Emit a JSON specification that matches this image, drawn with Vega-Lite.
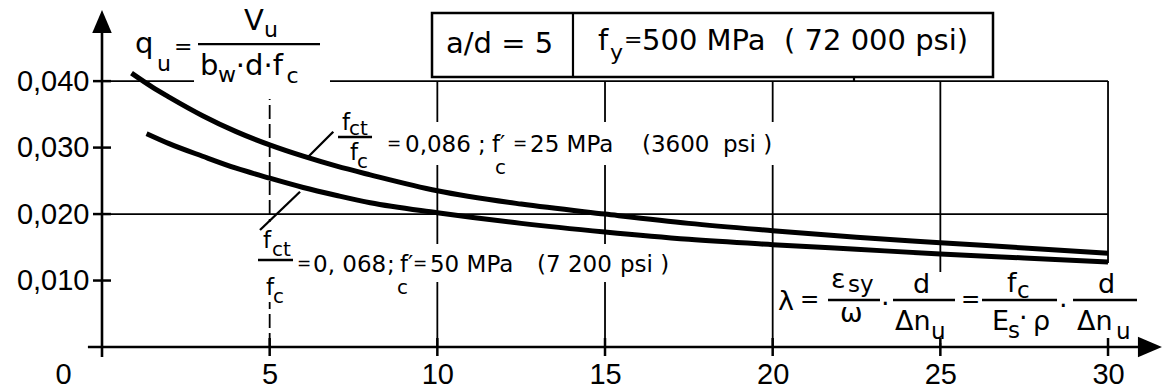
{
  "$schema": "https://vega.github.io/schema/vega-lite/v6.json",
  "width": 1058,
  "height": 337,
  "autosize": {"type": "none"},
  "padding": {"left": 102, "top": 10, "right": 2, "bottom": 44},
  "background": "white",
  "config": {"view": {"stroke": null}},
  "datasets": {
    "curves": [
      {"s": "a", "x": 0.88, "y": 0.0412}, {"s": "a", "x": 1.5, "y": 0.0391}, {"s": "a", "x": 2, "y": 0.0376},
      {"s": "a", "x": 3, "y": 0.0348}, {"s": "a", "x": 4, "y": 0.0324}, {"s": "a", "x": 5, "y": 0.0304},
      {"s": "a", "x": 6, "y": 0.0287}, {"s": "a", "x": 7, "y": 0.0272}, {"s": "a", "x": 8, "y": 0.0259},
      {"s": "a", "x": 10, "y": 0.0235}, {"s": "a", "x": 12.5, "y": 0.0215}, {"s": "a", "x": 15, "y": 0.02},
      {"s": "a", "x": 17.5, "y": 0.0186}, {"s": "a", "x": 20, "y": 0.0175}, {"s": "a", "x": 22.5, "y": 0.0165},
      {"s": "a", "x": 25, "y": 0.0157}, {"s": "a", "x": 27.5, "y": 0.0149}, {"s": "a", "x": 30, "y": 0.0141},
      {"s": "b", "x": 1.33, "y": 0.0321}, {"s": "b", "x": 2, "y": 0.0306}, {"s": "b", "x": 3, "y": 0.0287},
      {"s": "b", "x": 4, "y": 0.0269}, {"s": "b", "x": 5, "y": 0.0254}, {"s": "b", "x": 6, "y": 0.024},
      {"s": "b", "x": 7, "y": 0.0228}, {"s": "b", "x": 8, "y": 0.0217}, {"s": "b", "x": 10, "y": 0.0202},
      {"s": "b", "x": 12.5, "y": 0.0186}, {"s": "b", "x": 15, "y": 0.0173}, {"s": "b", "x": 17.5, "y": 0.0162},
      {"s": "b", "x": 20, "y": 0.0154}, {"s": "b", "x": 22.5, "y": 0.0147}, {"s": "b", "x": 25, "y": 0.014},
      {"s": "b", "x": 27.5, "y": 0.0134}, {"s": "b", "x": 30, "y": 0.0128}
    ],
    "gridsolid": [
      {"x": 10, "x2": 10, "y": 0, "y2": 0.04}, {"x": 15, "x2": 15, "y": 0, "y2": 0.04},
      {"x": 20, "x2": 20, "y": 0, "y2": 0.04}, {"x": 25, "x2": 25, "y": 0, "y2": 0.04},
      {"x": 30, "x2": 30, "y": 0, "y2": 0.04},
      {"x": 0, "x2": 30, "y": 0.02, "y2": 0.02}, {"x": 0, "x2": 30, "y": 0.04, "y2": 0.04}
    ],
    "griddash": [{"x": 5, "x2": 5, "y": 0, "y2": 0.04}],
    "masks": [
      {"x": 2.744, "x2": 6.799, "y": 0.03731, "y2": 0.04468},
      {"x": 8.29, "x2": 20.219, "y": 0.02738, "y2": 0.03385},
      {"x": 4.592, "x2": 5.845, "y": 0.00677, "y2": 0.01881},
      {"x": 5.845, "x2": 9.781, "y": 0.00737, "y2": 0.0161},
      {"x": 9.781, "x2": 17.236, "y": 0.00978, "y2": 0.0155},
      {"x": 20.099, "x2": 30.954, "y": 0.0006, "y2": 0.01128},
      {"x": 28.568, "x2": 30.954, "y": 0.0006, "y2": 0.01264}
    ],
    "box": [{"x": 9.841, "x2": 26.57, "y": 0.04062, "y2": 0.05025}],
    "boxlines": [
      {"x": 14.045, "x2": 14.045, "y": 0.04062, "y2": 0.05025},
      {"x": 22.425, "x2": 22.425, "y": 0.04, "y2": 0.04062}
    ],
    "bars": [
      {"x": 2.863, "x2": 6.501, "y": 0.04558, "y2": 0.04558},
      {"x": 7.038, "x2": 8.052, "y": 0.03159, "y2": 0.03159},
      {"x": 4.652, "x2": 5.696, "y": 0.01309, "y2": 0.01309},
      {"x": 21.65, "x2": 23.2, "y": 0.00707, "y2": 0.00707},
      {"x": 23.588, "x2": 25.437, "y": 0.00707, "y2": 0.00707},
      {"x": 26.242, "x2": 28.479, "y": 0.00707, "y2": 0.00707},
      {"x": 28.956, "x2": 30.864, "y": 0.00707, "y2": 0.00707},
      {"x": 6.105, "x2": 6.897, "y": 0.02839, "y2": 0.03239},
      {"x": 4.712, "x2": 5.905, "y": 0.0176, "y2": 0.02336}
    ],
    "axes": [
      {"x": -0.42, "x2": 31.0, "y": 0, "y2": 0},
      {"x": 0, "x2": 0, "y": -0.0015, "y2": 0.0485}
    ],
    "xticks": [{"x": 5, "y": 0}, {"x": 10, "y": 0}, {"x": 15, "y": 0}, {"x": 20, "y": 0}, {"x": 25, "y": 0}, {"x": 30, "y": 0}],
    "yticks": [{"x": 0, "y": 0.01}, {"x": 0, "y": 0.02}, {"x": 0, "y": 0.03}, {"x": 0, "y": 0.04}],
    "xarrow": [{"x": 31.25, "y": 0}],
    "yarrow": [{"x": 0, "y": 0.04898}],
    "tA": [
      {"x": 0.984, "y": 0.04423, "t": "q"},
      {"x": 4.235, "y": 0.04769, "t": "V"},
      {"x": 2.922, "y": 0.04092, "t": "b"},
      {"x": 3.99, "y": 0.04092, "t": "·d·f"},
      {"x": 10.258, "y": 0.04423, "t": "a/d = 5"},
      {"x": 14.791, "y": 0.04468, "t": "f"},
      {"x": 16.103, "y": 0.04468, "t": "500 MPa\u00a0 ( 72 000 psi)"}
    ],
    "tAs": [
      {"x": 1.64, "y": 0.04152, "t": "u"},
      {"x": 2.147, "y": 0.04404, "t": "="},
      {"x": 4.83, "y": 0.04664, "t": "u"},
      {"x": 3.459, "y": 0.03987, "t": "w"},
      {"x": 5.5, "y": 0.03972, "t": "c"},
      {"x": 15.149, "y": 0.04318, "t": "y"},
      {"x": 15.566, "y": 0.04519, "t": "="}
    ],
    "tL": [
      {"x": 7.157, "y": 0.03265, "t": "f"},
      {"x": 7.396, "y": 0.02813, "t": "f"},
      {"x": 9.036, "y": 0.02934, "t": "0,086"},
      {"x": 11.21, "y": 0.02934, "t": ";"},
      {"x": 11.63, "y": 0.02934, "t": "f′"},
      {"x": 12.764, "y": 0.02934, "t": "25 MPa"},
      {"x": 16.103, "y": 0.02934, "t": "(3600"},
      {"x": 18.518, "y": 0.02934, "t": "psi\u00a0)"},
      {"x": 4.801, "y": 0.01489, "t": "f"},
      {"x": 4.891, "y": 0.00782, "t": "f"},
      {"x": 6.292, "y": 0.01128, "t": "0,\u00a0068"},
      {"x": 8.5, "y": 0.01128, "t": ";"},
      {"x": 8.887, "y": 0.01128, "t": "f′"},
      {"x": 9.78, "y": 0.01128, "t": "50 MPa"},
      {"x": 12.972, "y": 0.01128, "t": "(7"},
      {"x": 13.896, "y": 0.01128, "t": "200"},
      {"x": 15.447, "y": 0.01128, "t": "psi\u00a0)"}
    ],
    "tLs": [
      {"x": 7.366, "y": 0.03189, "t": "ct"},
      {"x": 7.604, "y": 0.02693, "t": "c"},
      {"x": 11.72, "y": 0.02603, "t": "c"},
      {"x": 5.07, "y": 0.01369, "t": "ct"},
      {"x": 5.099, "y": 0.00662, "t": "c"},
      {"x": 8.8, "y": 0.00798, "t": "c"}
    ],
    "tLe": [
      {"x": 8.499, "y": 0.02972, "t": "="},
      {"x": 12.256, "y": 0.02972, "t": "="},
      {"x": 5.815, "y": 0.01167, "t": "="},
      {"x": 9.274, "y": 0.01167, "t": "="}
    ],
    "tM": [
      {"x": 20.159, "y": 0.00557, "t": "λ"},
      {"x": 21.739, "y": 0.00888, "t": "ε"},
      {"x": 22.008, "y": 0.00376, "t": "ω"},
      {"x": 23.23, "y": 0.00512, "t": "·"},
      {"x": 24.185, "y": 0.00812, "t": "d"},
      {"x": 23.648, "y": 0.00256, "t": "Δn"},
      {"x": 26.988, "y": 0.00827, "t": "f"},
      {"x": 26.54, "y": 0.00256, "t": "E"},
      {"x": 27.346, "y": 0.00301, "t": "·"},
      {"x": 27.763, "y": 0.00256, "t": "ρ"},
      {"x": 28.539, "y": 0.00481, "t": "·"},
      {"x": 29.701, "y": 0.00812, "t": "d"},
      {"x": 29.075, "y": 0.00256, "t": "Δn"}
    ],
    "tMs": [
      {"x": 22.246, "y": 0.00827, "t": "sy"},
      {"x": 24.72, "y": 0.0012, "t": "u"},
      {"x": 27.286, "y": 0.00737, "t": "c"},
      {"x": 27.018, "y": 0.00135, "t": "s"},
      {"x": 30.24, "y": 0.0012, "t": "u"},
      {"x": 20.815, "y": 0.00602, "t": "="},
      {"x": 25.616, "y": 0.00602, "t": "="}
    ]
  },
  "encoding": {
    "x": {"field": "x", "type": "quantitative", "title": null,
      "scale": {"domain": [0, 31.55], "nice": false, "zero": false},
      "axis": {"values": [0, 5, 10, 15, 20, 25, 30], "title": null, "domain": false, "ticks": false, "grid": false,
        "labelFont": "Liberation Sans", "labelFontSize": 29, "labelColor": "black", "labelPadding": 13, "labelFlush": false,
        "labelOverlap": false, "labelBound": false, "labelBaseline": "top",
        "labelOffset": {"condition": {"test": "datum.value === 0", "value": -39}, "value": 0}}},
    "y": {"field": "y", "type": "quantitative", "title": null,
      "scale": {"domain": [0, 0.0507], "nice": false, "zero": false},
      "axis": {"values": [0.01, 0.02, 0.03, 0.04], "title": null, "domain": false, "ticks": false, "grid": false,
        "labelExpr": "replace(format(datum.value, '.3f'), '.', ',')",
        "labelFont": "Liberation Sans", "labelFontSize": 29, "labelColor": "black", "labelPadding": 13,
        "labelOverlap": false, "labelBound": false, "labelFlush": false}}
  },
  "layer": [
    {
      "data": {"name": "gridsolid"},
      "mark": {"type": "rule", "color": "black", "strokeWidth": 1.8},
      "encoding": {"x2": {"field": "x2"}, "y2": {"field": "y2"}}
    },
    {
      "data": {"name": "griddash"},
      "mark": {"type": "rule", "color": "black", "strokeWidth": 1.8, "strokeDash": [14, 5]},
      "encoding": {"x2": {"field": "x2"}, "y2": {"field": "y2"}}
    },
    {
      "data": {"name": "masks"},
      "mark": {"type": "rect", "fill": "white", "strokeWidth": 0},
      "encoding": {"x2": {"field": "x2"}, "y2": {"field": "y2"}}
    },
    {
      "data": {"name": "box"},
      "mark": {"type": "rect", "fill": "white", "stroke": "black", "strokeWidth": 2.5},
      "encoding": {"x2": {"field": "x2"}, "y2": {"field": "y2"}}
    },
    {
      "data": {"name": "boxlines"},
      "mark": {"type": "rule", "color": "black", "strokeWidth": 2.2},
      "encoding": {"x2": {"field": "x2"}, "y2": {"field": "y2"}}
    },
    {
      "data": {"name": "bars"},
      "mark": {"type": "rule", "color": "black", "strokeWidth": 2.3},
      "encoding": {"x2": {"field": "x2"}, "y2": {"field": "y2"}}
    },
    {
      "data": {"name": "axes"},
      "mark": {"type": "rule", "color": "black", "strokeWidth": 2.6},
      "encoding": {"x2": {"field": "x2"}, "y2": {"field": "y2"}}
    },
    {
      "data": {"name": "xticks"},
      "mark": {"type": "tick", "color": "black", "orient": "vertical", "size": 18, "thickness": 2.5, "opacity": 1}
    },
    {
      "data": {"name": "yticks"},
      "mark": {"type": "tick", "color": "black", "orient": "horizontal", "size": 18, "thickness": 2.5, "opacity": 1}
    },
    {
      "data": {"name": "xarrow"},
      "mark": {"type": "point", "shape": "M-1,-0.85L1,0L-1,0.85Z", "size": 576, "filled": true, "color": "black", "opacity": 1, "strokeWidth": 0}
    },
    {
      "data": {"name": "yarrow"},
      "mark": {"type": "point", "shape": "M0,-1L0.85,1L-0.85,1Z", "size": 529, "filled": true, "color": "black", "opacity": 1, "strokeWidth": 0}
    },
    {
      "data": {"name": "curves"},
      "mark": {"type": "line", "color": "black", "strokeWidth": 5, "interpolate": "monotone"},
      "encoding": {"detail": {"field": "s"}}
    },
    {
      "data": {"name": "tA"},
      "mark": {"type": "text", "font": "DejaVu Sans", "fontSize": 29, "align": "left", "baseline": "alphabetic", "color": "black"},
      "encoding": {"text": {"field": "t"}}
    },
    {
      "data": {"name": "tAs"},
      "mark": {"type": "text", "font": "DejaVu Sans", "fontSize": 22, "align": "left", "baseline": "alphabetic", "color": "black"},
      "encoding": {"text": {"field": "t"}}
    },
    {
      "data": {"name": "tL"},
      "mark": {"type": "text", "font": "DejaVu Sans", "fontSize": 23, "align": "left", "baseline": "alphabetic", "color": "black"},
      "encoding": {"text": {"field": "t"}}
    },
    {
      "data": {"name": "tLs"},
      "mark": {"type": "text", "font": "DejaVu Sans", "fontSize": 20, "align": "left", "baseline": "alphabetic", "color": "black"},
      "encoding": {"text": {"field": "t"}}
    },
    {
      "data": {"name": "tLe"},
      "mark": {"type": "text", "font": "DejaVu Sans", "fontSize": 17, "align": "left", "baseline": "alphabetic", "color": "black"},
      "encoding": {"text": {"field": "t"}}
    },
    {
      "data": {"name": "tM"},
      "mark": {"type": "text", "font": "DejaVu Sans", "fontSize": 27, "align": "left", "baseline": "alphabetic", "color": "black"},
      "encoding": {"text": {"field": "t"}}
    },
    {
      "data": {"name": "tMs"},
      "mark": {"type": "text", "font": "DejaVu Sans", "fontSize": 23, "align": "left", "baseline": "alphabetic", "color": "black"},
      "encoding": {"text": {"field": "t"}}
    }
  ]
}
